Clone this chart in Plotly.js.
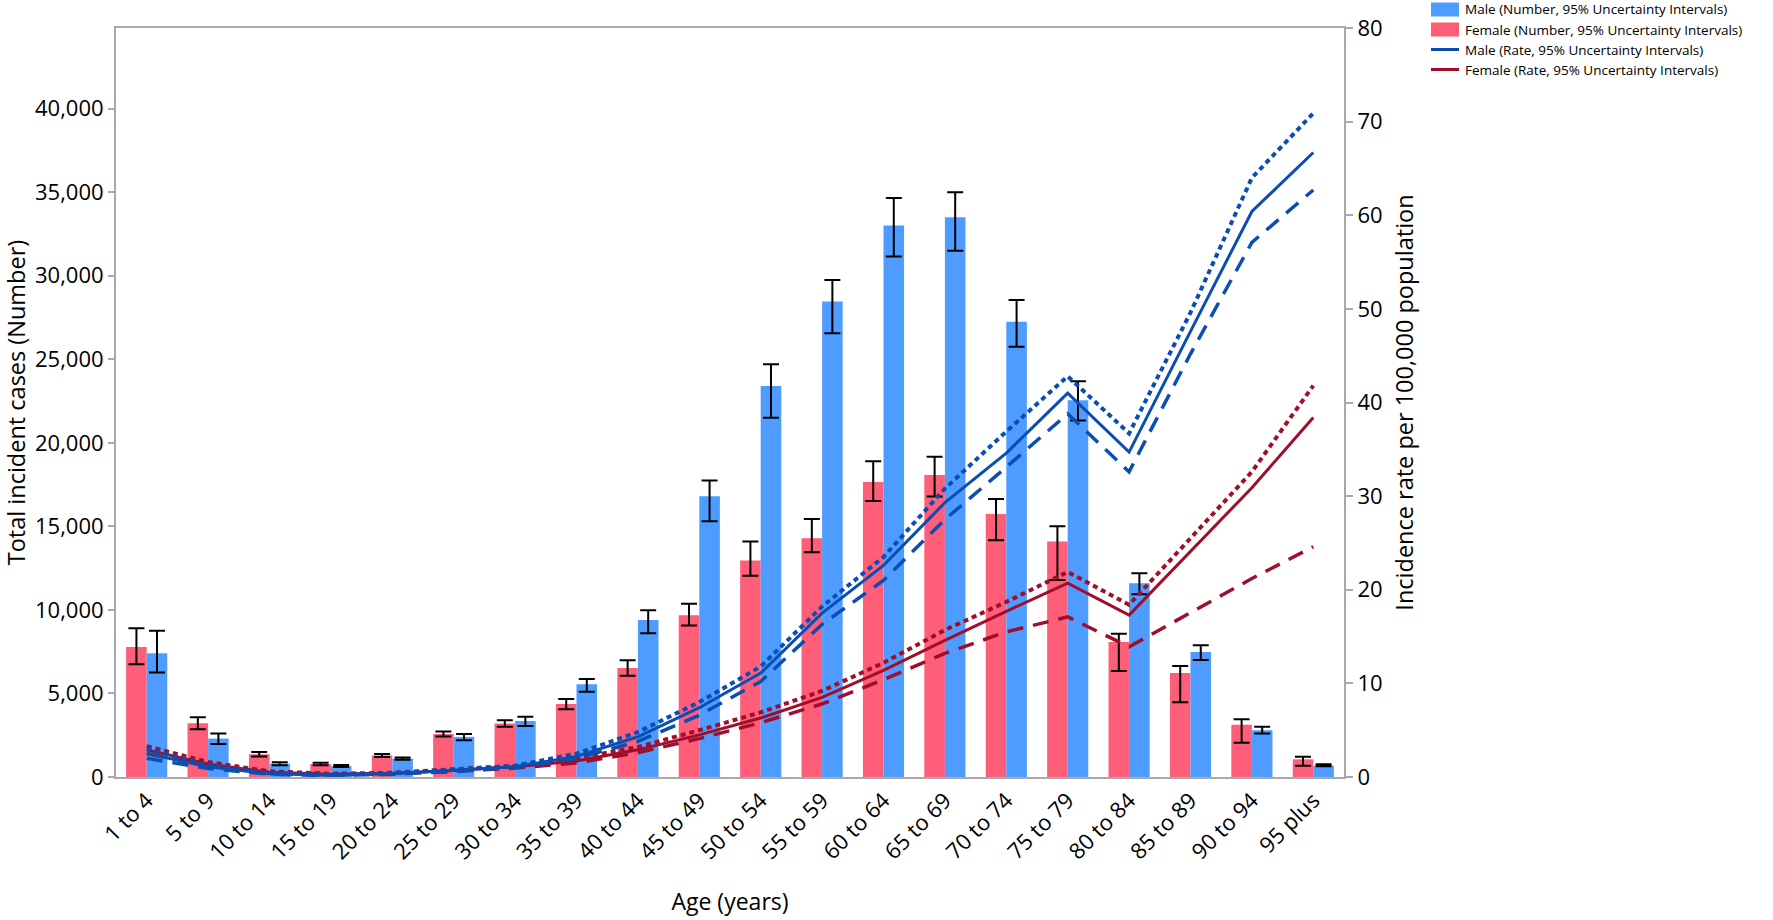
<!DOCTYPE html>
<html>
<head>
<meta charset="utf-8">
<script src="https://cdn.plot.ly/plotly-3.0.1.min.js"></script>
<style>html,body{margin:0;padding:0;background:#fff;}#chart{width:1773px;height:920px;}</style>
</head>
<body>
<div id="chart"></div>
<script>
const ages = ['1 to 4','5 to 9','10 to 14','15 to 19','20 to 24','25 to 29','30 to 34','35 to 39','40 to 44','45 to 49','50 to 54','55 to 59','60 to 64','65 to 69','70 to 74','75 to 79','80 to 84','85 to 89','90 to 94','95 plus'];

const maleNum   = [7400,2300,800,650,1100,2400,3350,5550,9400,16800,23400,28450,33000,33500,27250,22550,11600,7480,2800,680];
const maleNumLo = [6250,1980,700,600,1030,2200,3050,5100,8600,15300,21500,26550,31150,31500,25750,21330,10930,7000,2600,640];
const maleNumHi = [8750,2610,880,720,1160,2580,3600,5870,9980,17740,24700,29750,34650,35000,28550,23680,12190,7880,3000,760];

const femaleNum   = [7780,3210,1360,780,1290,2580,3200,4370,6520,9680,12950,14290,17660,18080,15740,14100,8080,6220,3120,1060];
const femaleNumLo = [6750,2860,1220,710,1200,2430,3000,4050,6060,9060,12050,13450,16520,16780,14170,11790,6340,4470,2050,680];
const femaleNumHi = [8900,3570,1490,850,1380,2720,3400,4670,6990,10370,14100,15440,18890,19170,16640,15000,8580,6640,3460,1215];

const maleRate   = [2.5,1.1,0.35,0.2,0.35,0.7,1.1,2.2,4.3,7.4,11.1,17.5,22.6,29.3,34.6,41.0,34.7,47.6,60.4,66.7];
const maleRateHi = [3.0,1.3,0.4,0.25,0.4,0.8,1.2,2.5,4.8,8.0,11.8,18.2,23.5,30.8,36.9,42.8,36.7,49.6,64.0,70.9];
const maleRateLo = [2.0,0.9,0.3,0.15,0.3,0.6,1.0,2.0,3.8,6.6,10.2,16.3,21.0,27.5,33.1,38.8,32.6,45.2,57.1,62.7];

const femaleRate   = [2.9,1.4,0.5,0.3,0.4,0.7,1.1,1.7,2.9,4.5,6.3,8.5,11.4,14.6,17.7,20.7,17.3,24.1,30.9,38.4];
const femaleRateHi = [3.3,1.6,0.6,0.35,0.45,0.8,1.2,2.0,3.2,5.0,6.9,9.2,12.2,15.7,18.7,21.9,18.4,25.5,32.6,41.8];
const femaleRateLo = [2.5,1.2,0.4,0.25,0.35,0.6,0.95,1.5,2.6,4.1,5.8,7.8,10.4,13.2,15.5,17.1,13.9,17.5,21.2,24.6];

const leftTicks = [0,5000,10000,15000,20000,25000,30000,35000,40000];
const legendLabels = ['Male (Number, 95% Uncertainty Intervals)','Female (Number, 95% Uncertainty Intervals)','Male (Rate, 95% Uncertainty Intervals)','Female (Rate, 95% Uncertainty Intervals)'];

const C_MALE_BAR = '#4E9CFF', C_FEM_BAR = '#FF5E78', C_MALE_LINE = '#0B4EB3', C_FEM_LINE = '#A00F2A';
const AXC = '#a9a9a9';
const FONT = '"Open Sans", "Noto Sans", sans-serif';

const W = 1773, H = 920, ML = 116, MR = W - 1344, MT = 28, MB = H - 777;
const PW = W - ML - MR, PH = H - MT - MB;
const px = x => (x - ML) / PW;
const py = y => (H - MB - y) / PH;

const errStyle = {type:'data', thickness:2, width:8, color:'#000'};
const traces = [
  {type:'bar', x:ages, y:femaleNum, marker:{color:C_FEM_BAR}, name:legendLabels[1],
   error_y:Object.assign({symmetric:false, array:femaleNum.map((v,i)=>femaleNumHi[i]-v), arrayminus:femaleNum.map((v,i)=>v-femaleNumLo[i])}, errStyle)},
  {type:'bar', x:ages, y:maleNum, marker:{color:C_MALE_BAR}, name:legendLabels[0],
   error_y:Object.assign({symmetric:false, array:maleNum.map((v,i)=>maleNumHi[i]-v), arrayminus:maleNum.map((v,i)=>v-maleNumLo[i])}, errStyle)},
  {type:'scatter', mode:'lines', x:ages, y:femaleRateHi, yaxis:'y2', line:{color:C_FEM_LINE, width:4, dash:'5px,4px'}},
  {type:'scatter', mode:'lines', x:ages, y:femaleRateLo, yaxis:'y2', line:{color:C_FEM_LINE, width:3.5, dash:'16px,10px'}},
  {type:'scatter', mode:'lines', x:ages, y:femaleRate, yaxis:'y2', line:{color:C_FEM_LINE, width:3}},
  {type:'scatter', mode:'lines', x:ages, y:maleRateHi, yaxis:'y2', line:{color:C_MALE_LINE, width:4, dash:'5px,4px'}},
  {type:'scatter', mode:'lines', x:ages, y:maleRateLo, yaxis:'y2', line:{color:C_MALE_LINE, width:3.5, dash:'16px,10px'}},
  {type:'scatter', mode:'lines', x:ages, y:maleRate, yaxis:'y2', line:{color:C_MALE_LINE, width:3}}
];

// manual legend (layout decoration)
const legRows = [
  {kind:'rect', color:C_MALE_BAR, y:9.5},
  {kind:'rect', color:C_FEM_BAR, y:29.5},
  {kind:'line', color:C_MALE_LINE, y:49.5},
  {kind:'line', color:C_FEM_LINE, y:69.5}
];
const shapes = [], annotations = [];
legRows.forEach((r, i) => {
  if (r.kind === 'rect') {
    shapes.push({type:'rect', xref:'paper', yref:'paper', x0:px(1431), x1:px(1459), y0:py(r.y-7), y1:py(r.y+7), fillcolor:r.color, line:{width:0}});
  } else {
    shapes.push({type:'line', xref:'paper', yref:'paper', x0:px(1431), x1:px(1459), y0:py(r.y), y1:py(r.y), line:{color:r.color, width:3}});
  }
  annotations.push({xref:'paper', yref:'paper', x:px(1463), y:py(r.y), xanchor:'left', yanchor:'middle', showarrow:false,
    text:legendLabels[i], font:{family:FONT, size:13.5, color:'#000'}});
});

const layout = {
  width:W, height:H,
  margin:{l:ML, r:MR, t:MT, b:MB, pad:0},
  paper_bgcolor:'#fff', plot_bgcolor:'#fff',
  font:{family:FONT, color:'#000'},
  showlegend:false,
  barmode:'group', bargap:0.33, bargroupgap:0,
  xaxis:{type:'category', range:[-0.5,19.5], showline:true, linecolor:AXC, linewidth:2, mirror:true,
    ticks:'', tickangle:-45, tickfont:{size:22}, showgrid:false, zeroline:false, automargin:false,
    title:{text:'Age (years)', font:{size:23}, standoff:30}},
  yaxis:{range:[0,44825], tickvals:leftTicks, tickformat:',', ticks:'outside', ticklen:6, tickwidth:2, tickcolor:AXC,
    showline:true, linecolor:AXC, linewidth:2, showgrid:false, zeroline:false, tickfont:{size:22}, automargin:false,
    title:{text:'Total incident cases (Number)', font:{size:23.5}, standoff:10}},
  yaxis2:{overlaying:'y', side:'right', range:[0,80], dtick:10, ticks:'outside', ticklen:7, tickwidth:2, tickcolor:AXC,
    showline:true, linecolor:AXC, linewidth:2, showgrid:false, zeroline:false, tickfont:{size:22}, automargin:false,
    title:{text:'Incidence rate per 100,000 population', font:{size:23.5}, standoff:15}},
  shapes:shapes, annotations:annotations
};

Plotly.newPlot('chart', traces, layout, {staticPlot:true, displayModeBar:false});
</script>
</body>
</html>
